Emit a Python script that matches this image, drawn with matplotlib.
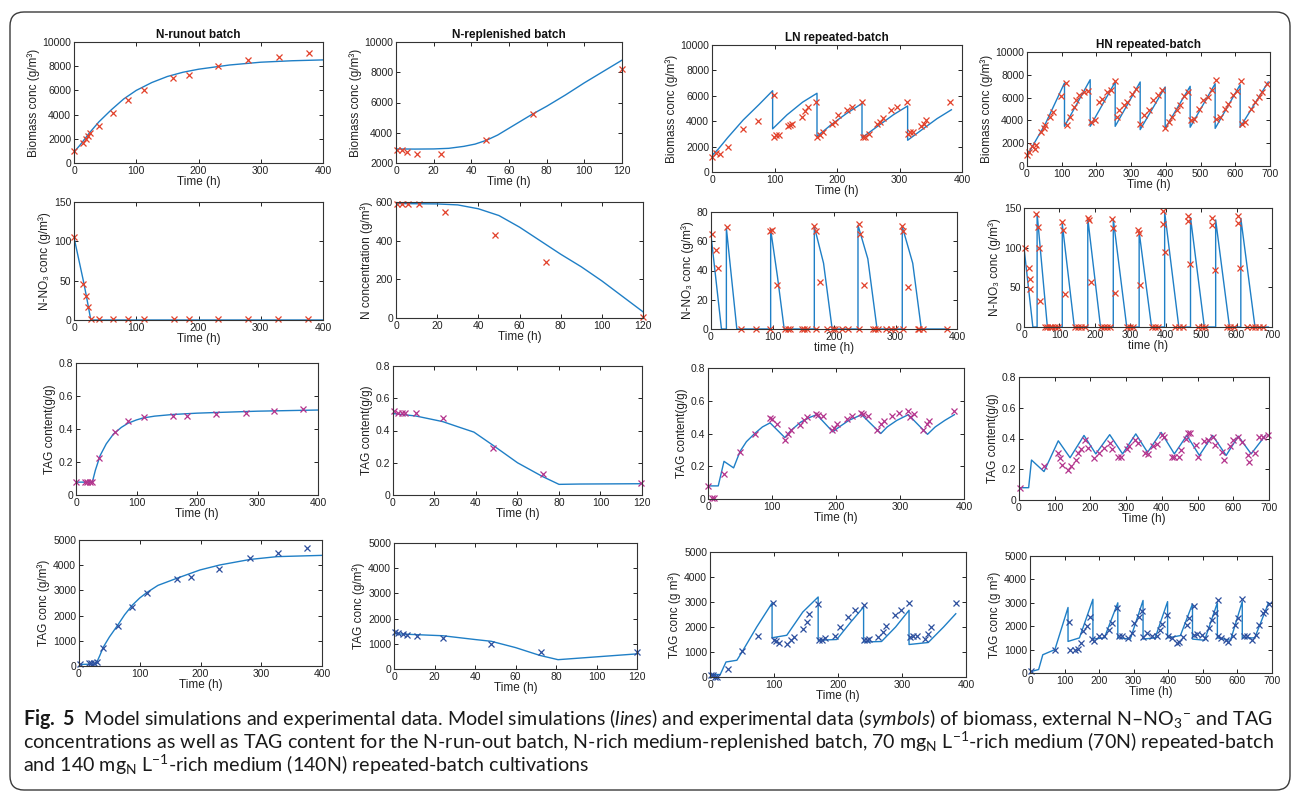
import numpy as np
import matplotlib.pyplot as plt
from matplotlib.patches import FancyBboxPatch
from matplotlib.transforms import IdentityTransform
from matplotlib.ticker import FuncFormatter

plt.rcParams['font.family'] = ['Liberation Sans', 'DejaVu Sans']
plt.rcParams['mathtext.fontset'] = 'custom'
plt.rcParams['mathtext.rm'] = 'Lato'
plt.rcParams['mathtext.it'] = 'Lato:italic'
plt.rcParams['mathtext.bf'] = 'Lato:bold'

# ---------------- N-runout batch ----------------
nr_bio_mt = [0, 10, 25, 40, 60, 80, 100, 125, 150, 175, 200, 250, 300, 350, 400]
nr_bio_m = [900, 1500, 2500, 3400, 4400, 5300, 6000, 6650, 7150, 7500, 7750, 8100, 8330, 8450, 8520]
nr_bio_et = [0, 15, 19, 22, 26, 40, 63, 87, 112, 159, 184, 231, 280, 329, 377]
nr_bio_e = [960, 1650, 1980, 2200, 2480, 3030, 4130, 5180, 6060, 7020, 7300, 7990, 8540, 8730, 9090]

nr_no3_mt = [0, 15, 20, 27, 400]
nr_no3_m = [105, 50, 30, 0, 0]
nr_no3_et = [0, 15, 20, 23, 27, 40, 63, 87, 112, 160, 184, 232, 280, 328, 376]
nr_no3_e = [106, 46, 30, 16, 1, 1, 1, 1, 1, 1, 1, 1, 1, 1, 1]

nr_tagc_mt = [0, 27, 32, 40, 50, 62, 75, 86, 100, 111, 130, 160, 200, 232, 300, 400]
nr_tagc_m = [0.078, 0.078, 0.15, 0.24, 0.31, 0.37, 0.41, 0.435, 0.455, 0.467, 0.478, 0.488,
             0.496, 0.5, 0.508, 0.515]
nr_tagc_et = [0, 15, 19, 23, 27, 38, 64, 86, 112, 160, 184, 231, 281, 328, 376]
nr_tagc_e = [0.077, 0.077, 0.077, 0.077, 0.077, 0.223, 0.38, 0.45, 0.475, 0.48, 0.48, 0.49,
             0.495, 0.51, 0.52]

nr_tag_mt = [0, 28, 34, 40, 50, 64, 75, 88, 100, 112, 130, 161, 199, 232, 282, 326, 400]
nr_tag_m = [60, 80, 400, 750, 1150, 1630, 2030, 2420, 2700, 2920, 3200, 3480, 3810, 4010,
            4230, 4340, 4390]
nr_tag_et = [1, 16, 20, 24, 29, 40, 64, 88, 112, 161, 185, 231, 281, 328, 376]
nr_tag_e = [80, 130, 130, 105, 170, 700, 1590, 2350, 2880, 3440, 3540, 3860, 4270, 4470, 4670]

# ---------------- N-replenished batch ----------------
rp_bio_mt = [0, 10, 20, 28, 36, 42, 48, 54, 60, 66, 72, 80, 90, 100, 110, 120]
rp_bio_m = [2930, 2920, 2930, 2970, 3100, 3250, 3500, 3850, 4300, 4750, 5200, 5750, 6500,
            7300, 8050, 8800]
rp_bio_et = [0.5, 3, 6, 11, 24, 48, 72.5, 120]
rp_bio_e = [2880, 2840, 2730, 2600, 2600, 3540, 5250, 8200]

rp_no3_mt = [0, 20, 30, 40, 50, 60, 70, 80, 90, 100, 110, 120]
rp_no3_m = [592, 590, 585, 565, 530, 470, 400, 330, 265, 192, 112, 32]
rp_no3_et = [0.5, 3, 6, 11, 24, 48, 73, 120]
rp_no3_e = [592, 592, 592, 592, 547, 427, 288, 5]

rp_tagc_mt = [0, 11, 24, 32, 39, 48, 60, 72, 80, 90, 120]
rp_tagc_m = [0.505, 0.49, 0.455, 0.42, 0.39, 0.31, 0.2, 0.115, 0.066, 0.068, 0.07]
rp_tagc_et = [0.5, 2.4, 4.5, 6, 11, 24, 48, 72.5, 119.5]
rp_tagc_e = [0.52, 0.51, 0.51, 0.51, 0.51, 0.48, 0.293, 0.128, 0.076]

rp_tag_mt = [0, 24, 40, 48, 60, 72, 81, 120]
rp_tag_m = [1400, 1320, 1170, 1100, 850, 540, 370, 600]
rp_tag_et = [0.7, 2, 4.5, 6.4, 11.4, 24, 48, 72.4, 120]
rp_tag_e = [1455, 1430, 1400, 1360, 1320, 1230, 1005, 660, 660]

# ---------------- LN repeated-batch ----------------
ln_bio_mt = [0, 10, 25, 50, 75, 97, 97, 120, 145, 168, 168, 190, 215, 240, 240, 265, 290,
             313, 313, 335, 360, 383]
ln_bio_m = [1300, 1800, 2700, 4100, 5300, 6400, 3400, 4500, 5500, 6200, 2800, 3700, 4600,
            5400, 2700, 3600, 4500, 5200, 2500, 3300, 4200, 4900]
ln_bio_et = [0, 7, 12, 26, 50, 74, 99, 99, 103, 107, 122, 125, 128, 144, 148, 154, 167, 168,
             173, 178, 192, 196, 202, 216, 224, 240, 241, 244, 251, 264, 268, 273, 287, 296,
             312, 313, 316, 321, 334, 339, 342, 381]
ln_bio_e = [1180, 1500, 1450, 2000, 3400, 4000, 6050, 2760, 2900, 2950, 3600, 3700, 3750,
            4300, 4800, 5100, 5500, 2760, 2900, 3150, 3750, 3950, 4500, 4900, 5100, 5500, 2760,
            2760, 3000, 3750, 3950, 4250, 4850, 5100, 5500, 3000, 3150, 3150, 3600, 3800, 4100,
            5500]

ln_no3_mt = [0, 17, 25, 25, 42, 97, 97, 108, 119, 168, 168, 183, 197, 239, 239, 255, 270,
             311, 311, 328, 342, 385]
ln_no3_m = [64, 0, 0, 69, 0, 0, 68, 36, 0, 0, 70, 45, 0, 0, 71, 48, 0, 0, 70, 45, 0, 0]
ln_no3_et = [1.6, 8.7, 11.4, 26, 49, 73, 96.5, 96.5, 99, 107, 121, 125, 129, 148, 152, 156,
             168, 170, 171.5, 178, 189, 198, 202, 213, 222, 240, 241, 243, 249, 263, 267, 271,
             285, 292, 299, 310.6, 313, 313, 321, 336, 339, 344, 383]
ln_no3_e = [65, 54, 41.5, 70, 0, 0, 67, 0, 68, 30, 0, 0, 0, 0, 0, 0, 70.5, 0, 67, 32, 0, 0, 0,
            0, 0, 71.6, 0, 65, 30, 0, 0, 0, 0, 0, 0, 70.5, 67, 0, 29, 0, 0, 0, 0]

ln_tagc_mt = [0, 16, 25, 40, 50, 60, 73, 85, 97, 120, 130, 145, 160, 170, 195, 205, 220, 240,
              270, 280, 295, 313, 343, 355, 370, 385]
ln_tagc_m = [0.08, 0.08, 0.23, 0.19, 0.29, 0.35, 0.40, 0.44, 0.465, 0.375, 0.42, 0.47, 0.50,
             0.515, 0.41, 0.44, 0.48, 0.515, 0.40, 0.44, 0.48, 0.515, 0.395, 0.44, 0.48, 0.515]
ln_tagc_et = [0, 7, 10, 25, 50, 73, 97, 100, 108, 120, 125, 129, 143, 150, 154, 168, 172, 179,
              193, 197, 202, 217, 225, 239, 242, 250, 264, 270, 275, 288, 299, 313, 316, 322,
              336, 342, 346, 384]
ln_tagc_e = [0.08, 0.005, 0.005, 0.15, 0.29, 0.40, 0.495, 0.49, 0.46, 0.36, 0.40, 0.42, 0.45,
             0.48, 0.50, 0.52, 0.515, 0.505, 0.42, 0.435, 0.455, 0.49, 0.505, 0.525, 0.52,
             0.505, 0.42, 0.455, 0.475, 0.505, 0.525, 0.54, 0.50, 0.52, 0.42, 0.455, 0.475,
             0.54]

ln_tag_mt = [0, 16, 25, 42, 50, 73, 97, 97, 120, 145, 169, 169, 198, 220, 240, 240, 268, 290,
             311, 311, 341, 365, 384]
ln_tag_m = [100, 100, 600, 670, 1000, 2000, 2960, 1570, 1670, 2600, 3200, 1470, 1500, 2200,
            2800, 1400, 1420, 2000, 2670, 1300, 1380, 2000, 2530]
ln_tag_et = [1, 5, 8, 11.5, 27.6, 50.5, 74.5, 99, 100.5, 103, 108, 121, 126, 131, 146, 151,
             155, 168, 170, 174.5, 179, 195, 203, 216, 226.5, 240.6, 241, 245, 249, 263, 270,
             275, 289, 298, 311, 313, 317, 323, 336, 341, 346, 384]
ln_tag_e = [100, 70, 0, 20, 330, 1030, 1630, 2960, 1490, 1430, 1360, 1330, 1470, 1600, 1930,
            2200, 2530, 2930, 1470, 1490, 1570, 1630, 2000, 2400, 2670, 2900, 1490, 1490, 1530,
            1600, 1800, 2030, 2470, 2670, 2960, 1600, 1630, 1630, 1530, 1730, 2000, 2960]

# ---------------- HN repeated-batch ----------------
hn_bio_mt = [0, 53, 108, 108, 182, 182, 254, 254, 326, 326, 398, 398, 470, 470, 542, 542, 614,
             614, 695]
hn_bio_m = [900, 3700, 7280, 3480, 7570, 3480, 7370, 3480, 7370, 3190, 6930, 3300, 6990, 3400,
            7220, 3300, 7130, 3400, 7370]
hn_bio_et = [0, 5, 14, 22, 26, 41, 48, 53, 67, 74, 99, 112, 115, 125, 134, 142, 150, 163, 175,
             185, 195, 208, 216, 230, 243, 254, 259, 266, 278, 288, 302, 314, 326, 336, 350,
             364, 377, 388, 398, 408, 419, 431, 441, 453, 465, 473, 482, 496, 508, 521, 534,
             544, 544, 556, 569, 580, 594, 604, 616, 618, 628, 645, 657, 668, 678, 690]
hn_bio_e = [940, 1230, 1720, 1520, 1810, 2980, 3360, 3570, 4300, 4740, 6110, 7280, 3570, 4300,
            5180, 5760, 6200, 6490, 6580, 3860, 4000, 5610, 5900, 6490, 6640, 7430, 4300, 4880,
            5320, 5610, 6350, 6780, 3710, 4440, 4880, 5760, 6200, 6640, 3360, 3860, 4300, 4880,
            5320, 6110, 6490, 4000, 4150, 5030, 5760, 6050, 6640, 7510, 4150, 4300, 5030, 5470,
            6200, 6580, 7430, 3710, 3860, 5030, 5610, 6050, 6490, 7220]

hn_no3_mt = [0, 25, 37, 37, 66, 108, 108, 142, 180, 180, 216, 252, 252, 290, 325, 325, 360,
             397, 397, 437, 470, 470, 509, 541, 541, 580, 612, 612, 652, 690]
hn_no3_m = [100, 0, 0, 143, 0, 0, 130, 0, 0, 137, 0, 0, 136, 0, 0, 120, 0, 0, 145, 0, 0, 138,
            0, 0, 135, 0, 0, 137, 0, 0]
hn_no3_et = [2, 13, 16, 16, 35, 40, 42, 44, 108, 110, 115, 181, 183, 188, 249, 252, 258, 321,
             325, 327, 391, 393, 398, 462, 464, 469, 530, 532, 540, 603, 604, 610]
hn_no3_e = [100, 74, 60, 48, 142, 126, 100, 33, 132, 122, 42, 138, 135, 57, 136, 125, 43, 122,
            118, 53, 146, 130, 94, 140, 133, 79, 137, 129, 72, 140, 131, 74]
hn_no3_low_t = [58, 66, 73, 79, 87, 96, 143, 153, 162, 172, 217, 226, 233, 242, 290, 299, 308,
                360, 370, 379, 426, 438, 450, 492, 502, 511, 573, 582, 592, 629, 643, 653, 662,
                676]
hn_no3_low = [0, 0, 0, 0, 0, 0, 0, 0, 0, 0, 0, 0, 0, 0, 0, 0, 0, 0, 0, 0, 0, 0, 0, 0, 0, 0, 0,
              0, 0, 0, 0, 0, 0, 0]

hn_tagc_mt = [0, 27, 35, 70, 110, 143, 182, 215, 254, 290, 327, 360, 398, 435, 470, 505, 542,
              580, 614, 650, 690]
hn_tagc_m = [0.08, 0.08, 0.26, 0.185, 0.385, 0.275, 0.42, 0.30, 0.425, 0.30, 0.43, 0.31, 0.44,
             0.30, 0.42, 0.29, 0.42, 0.29, 0.415, 0.30, 0.42]
hn_tagc_et = [3, 70, 110, 115, 121, 138, 146, 159, 164, 174, 185, 192, 211, 224, 239, 255, 261,
              278, 286, 302, 308, 325, 332, 353, 360, 376, 385, 400, 406, 428, 435, 448, 454,
              468, 474, 479, 495, 502, 519, 530, 542, 549, 568, 575, 591, 598, 614, 624, 642,
              645, 661, 672, 682, 697]
hn_tagc_e = [0.076, 0.22, 0.305, 0.27, 0.23, 0.195, 0.22, 0.26, 0.305, 0.33, 0.39, 0.34, 0.27,
             0.305, 0.34, 0.37, 0.33, 0.28, 0.28, 0.33, 0.35, 0.39, 0.37, 0.305, 0.30, 0.35,
             0.365, 0.42, 0.41, 0.28, 0.28, 0.28, 0.325, 0.40, 0.435, 0.435, 0.36, 0.28, 0.385,
             0.39, 0.41, 0.36, 0.31, 0.26, 0.35, 0.39, 0.41, 0.38, 0.295, 0.25, 0.305, 0.41,
             0.41, 0.42]

hn_tag_mt = [0, 25, 37, 72, 110, 110, 143, 182, 182, 215, 254, 254, 290, 327, 327, 362, 398,
             398, 435, 470, 470, 505, 542, 542, 580, 614, 614, 650, 690]
hn_tag_m = [50, 150, 780, 1000, 2800, 1350, 1500, 3150, 1450, 1500, 3000, 1500, 1450, 3100,
            1450, 1500, 3050, 1500, 1600, 2950, 1450, 1400, 3000, 1500, 1400, 3050, 1500, 1500,
            3000]
hn_tag_et = [3, 72, 113, 116, 130, 138, 148, 154, 164, 174, 180, 186, 200, 215, 229, 236, 251,
             258, 267, 283, 294, 302, 314, 325, 328, 338, 352, 367, 376, 383, 396, 399, 410,
             425, 431, 444, 454, 460, 473, 473, 483, 497, 505, 517, 526, 534, 543, 543, 553,
             567, 574, 586, 594, 603, 613, 618, 627, 642, 654, 663, 673, 680, 690]
hn_tag_e = [70, 1000, 2170, 1000, 1000, 1020, 1280, 1780, 2020, 2410, 1450, 1350, 1560, 1590,
            1850, 2130, 2770, 1590, 1560, 1490, 1700, 2130, 2410, 2630, 1530, 1700, 1590, 1560,
            1850, 2100, 2490, 1560, 1490, 1280, 1310, 1530, 2060, 2340, 2870, 1630, 1680, 1630,
            1490, 1920, 2270, 2560, 3100, 1590, 1490, 1420, 1310, 1560, 2060, 2340, 3150, 1560,
            1560, 1420, 1630, 2060, 2560, 2630, 2950]

titles = ['N-runout batch', 'N-replenished batch', 'LN repeated-batch', 'HN repeated-batch']

# ---------------- figure ----------------
W, H = 1293, 795
fig = plt.figure(figsize=(W / 100, H / 100), dpi=100)

LINE = '#1f7fc6'
RED = '#e2412b'
MAG = '#b4338c'
DBLUE = '#2d4f9e'


def add_ax(x0, x1, y0, y1):
    # pixel box of the reference -> figure fractions
    return fig.add_axes([x0 / W, 1 - y1 / H, (x1 - x0) / W, (y1 - y0) / H])


fmt = FuncFormatter(lambda v, p: f'{v:g}')

lbl_bio = 'Biomass conc (g/m\u00b3)'
lbl_no3 = 'N-NO\u2083 conc (g/m\u00b3)'
lbl_tagc = 'TAG content(g/g)'
lbl_tag = 'TAG conc (g/m\u00b3)'
lbl_tag2 = 'TAG conc (g m\u00b3)'

panels = [
    # column 1
    ((74, 323, 42, 163), nr_bio_mt, nr_bio_m, nr_bio_et, nr_bio_e, RED, (0, 400), 100,
     (0, 10000), 2000, lbl_bio, 'Time (h)', titles[0]),
    ((74, 323, 202, 320), nr_no3_mt, nr_no3_m, nr_no3_et, nr_no3_e, RED, (0, 400), 100,
     (0, 150), 50, lbl_no3, 'Time (h)', None),
    ((76, 318, 363, 495), nr_tagc_mt, nr_tagc_m, nr_tagc_et, nr_tagc_e, MAG, (0, 400), 100,
     (0, 0.8), 0.2, lbl_tagc, 'Time (h)', None),
    ((79, 322, 540, 666), nr_tag_mt, nr_tag_m, nr_tag_et, nr_tag_e, DBLUE, (0, 400), 100,
     (0, 5000), 1000, lbl_tag, 'Time (h)', None),
    # column 2
    ((396, 622, 42, 163), rp_bio_mt, rp_bio_m, rp_bio_et, rp_bio_e, RED, (0, 120), 20,
     (2000, 10000), 2000, lbl_bio, 'Time (h)', titles[1]),
    ((396, 643, 202, 318), rp_no3_mt, rp_no3_m, rp_no3_et, rp_no3_e, RED, (0, 120), 20,
     (0, 600), 200, 'N concentration (g/m\u00b3)', 'Time (h)', None),
    ((393, 642, 366, 495), rp_tagc_mt, rp_tagc_m, rp_tagc_et, rp_tagc_e, MAG, (0, 120), 20,
     (0, 0.8), 0.2, lbl_tagc, 'Time (h)', None),
    ((394, 637, 543, 669), rp_tag_mt, rp_tag_m, rp_tag_et, rp_tag_e, DBLUE, (0, 120), 20,
     (0, 5000), 1000, lbl_tag, 'Time (h)', None),
    # column 3
    ((712, 962, 45, 172), ln_bio_mt, ln_bio_m, ln_bio_et, ln_bio_e, RED, (0, 400), 100,
     (0, 10000), 2000, lbl_bio, 'Time (h)', titles[2]),
    ((711, 957, 212, 329), ln_no3_mt, ln_no3_m, ln_no3_et, ln_no3_e, RED, (0, 400), 100,
     (0, 80), 20, lbl_no3, 'time (h)', None),
    ((708, 964, 368, 499), ln_tagc_mt, ln_tagc_m, ln_tagc_et, ln_tagc_e, MAG, (0, 400), 100,
     (0, 0.8), 0.2, lbl_tagc, 'Time (h)', None),
    ((710, 966, 552, 677), ln_tag_mt, ln_tag_m, ln_tag_et, ln_tag_e, DBLUE, (0, 400), 100,
     (0, 5000), 1000, lbl_tag2, 'Time (h)', None),
    # column 4
    ((1027, 1270, 52, 166), hn_bio_mt, hn_bio_m, hn_bio_et, hn_bio_e, RED, (0, 700), 100,
     (0, 10000), 2000, lbl_bio, 'Time (h)', titles[3]),
    ((1024, 1272, 208, 327), hn_no3_mt, hn_no3_m, hn_no3_et + hn_no3_low_t,
     hn_no3_e + hn_no3_low, RED, (0, 700), 100, (0, 150), 50, lbl_no3, 'time (h)', None),
    ((1019, 1269, 377, 500), hn_tagc_mt, hn_tagc_m, hn_tagc_et, hn_tagc_e, MAG, (0, 700), 100,
     (0, 0.8), 0.2, lbl_tagc, 'Time (h)', None),
    ((1030, 1272, 556, 673), hn_tag_mt, hn_tag_m, hn_tag_et, hn_tag_e, DBLUE, (0, 700), 100,
     (0, 5000), 1000, lbl_tag2, 'Time (h)', None),
]

for box, mt, m, et, e, mc, xl, xs, yl, ys, ylab, xlab, title in panels:
    ax = add_ax(*box)
    ax.plot(mt, m, color=LINE, lw=1.0)
    ax.plot(et, e, ls='none', marker='x', ms=5, mew=0.9, color=mc, clip_on=False)
    ax.set_xlim(*xl)
    ax.set_ylim(*yl)
    ax.set_xticks(np.arange(xl[0], xl[1] + xs / 2, xs))
    ax.set_yticks(np.arange(yl[0], yl[1] + ys / 2, ys))
    ax.xaxis.set_major_formatter(fmt)
    ax.yaxis.set_major_formatter(fmt)
    ax.tick_params(direction='in', length=3, width=0.7, top=True, right=True,
                   labelsize=7.5, pad=2, colors='#222222')
    for s in ax.spines.values():
        s.set_linewidth(0.8)
        s.set_color('#333333')
    ax.set_xlabel(xlab, fontsize=8.5, labelpad=0.5, color='#222222')
    ax.set_ylabel(ylab, fontsize=8.5, labelpad=2, color='#222222')
    if title:
        ax.set_title(title, fontsize=8.5, fontweight='bold', pad=3, color='#111111')

# frame round the figure
frame = FancyBboxPatch((10, H - 790), 1280, 778, boxstyle='round,pad=0,rounding_size=14',
                       transform=IdentityTransform(), fill=False, lw=1.0, ec='#3a3a3a')
fig.patches.append(frame)

cap1 = (r'$\mathbf{Fig.\ 5}$  Model simulations and experimental data. Model simulations '
        r'($\mathit{lines}$) and experimental data ($\mathit{symbols}$) of biomass, external '
        'N\u2013NO' r'$_3$$^{-}$ and TAG')
cap2 = (r'concentrations as well as TAG content for the N-run-out batch, N-rich '
        r'medium-replenished batch, 70 mg$_\mathrm{N}$ L$^{-1}$-rich medium (70N) repeated-batch')
cap3 = r'and 140 mg$_\mathrm{N}$ L$^{-1}$-rich medium (140N) repeated-batch cultivations'

caps = []
for i, c in enumerate([cap1, cap2, cap3]):
    t = fig.text(23 / W, 1 - (725 + 23.5 * i) / H, c, fontsize=13, family='Lato',
                 color='#1a1a1a', va='baseline', ha='left')
    caps.append(t)

# fit caption size so that line 2 spans the text width of the reference
fig.canvas.draw()
r = fig.canvas.get_renderer()
wline = caps[1].get_window_extent(r).width
size = 13 * 1250 / wline
for t in caps:
    t.set_fontsize(size)

fig.savefig('out.png', dpi=100)
